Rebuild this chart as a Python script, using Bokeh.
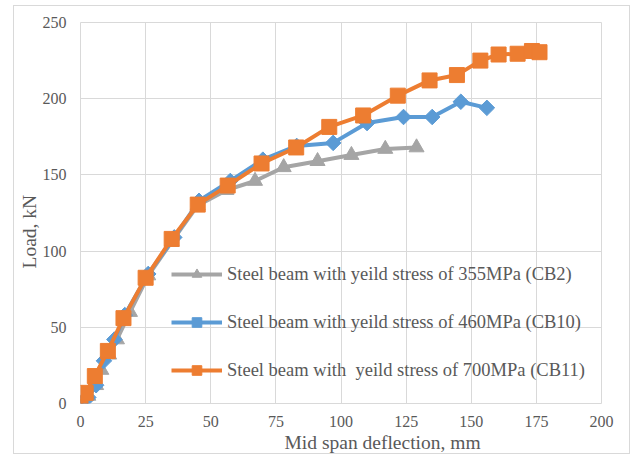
import math
from bokeh.plotting import figure
from bokeh.models import Legend, LegendItem, Title, FixedTicker, Range1d
from bokeh.embed import file_html
from bokeh.resources import INLINE

# ---- data ----
cb2_x = [0, 3, 6, 8, 11, 14, 19, 26, 35, 45, 56, 67, 78, 91, 104, 117, 129]
cb2_y = [0, 5, 12, 22, 32, 42, 60, 84, 106, 130, 140, 146, 155, 159, 163, 167, 168]

cb10_x = [0, 3, 6, 9, 13, 17, 26, 36, 45.5, 57.5, 70, 83, 97, 110, 124, 135, 146, 156]
cb10_y = [0, 4, 12, 28, 42, 58, 85, 109, 133, 146, 160, 169, 171, 184, 188, 188, 198, 194]

cb11_x = [0, 2, 5.5, 10.5, 16.5, 25, 35, 45, 56.5, 69.5, 82.8, 95.5, 108.5, 121.8, 134, 144.5, 153.5, 160.5, 167.8, 173.3, 176.2]
cb11_y = [0, 7, 18, 34.5, 56, 82.5, 108, 130.5, 143, 157.5, 168, 181.5, 189, 202, 212, 215.5, 225, 229, 229.5, 231.3, 230.5]

x_ticks = [0, 25, 50, 75, 100, 125, 150, 175, 200]
y_ticks = [0, 50, 100, 150, 200, 250]

labels = [
    "Steel beam with yeild stress of 355MPa (CB2)",
    "Steel beam with yeild stress of 460MPa (CB10)",
    "Steel beam with  yeild stress of 700MPa (CB11)",
]
x_title = "Mid span deflection, mm"
y_title = "Load, kN"

GRAY = "#A5A5A5"
BLUE = "#5B9BD5"
ORANGE = "#ED7D31"
TXT = "#595959"
GRID = "#D9D9D9"
FONT = "Liberation Serif"

p = figure(width=617, height=449, output_backend="svg", toolbar_location=None,
           x_range=Range1d(0, 200), y_range=Range1d(0, 250),
           min_border_left=66, min_border_right=30, min_border_top=16, min_border_bottom=52,
           margin=(5, 0, 0, 13),
           styles={"border": "1px solid #D9D9D9"})

p.outline_line_color = GRID
p.xgrid.grid_line_color = GRID
p.ygrid.grid_line_color = GRID
p.xaxis.ticker = FixedTicker(ticks=x_ticks)
p.yaxis.ticker = FixedTicker(ticks=y_ticks)
for ax in (p.xaxis, p.yaxis):
    ax.axis_line_color = None
    ax.major_tick_line_color = None
    ax.minor_tick_line_color = None
    ax.major_tick_out = 0
    ax.major_tick_in = 0
    ax.minor_tick_out = 0
    ax.minor_tick_in = 0
    ax.major_label_text_font = FONT
    ax.major_label_text_font_size = "16px"
    ax.major_label_text_color = TXT
    ax.major_label_text_line_height = 1.0
p.xaxis.major_label_standoff = 12
p.yaxis.major_label_standoff = 14

r_g_l = p.line(cb2_x, cb2_y, line_color=GRAY, line_width=4)
r_g_m = p.scatter(cb2_x, cb2_y, marker="triangle", size=15, fill_color=GRAY, line_color=GRAY)
r_b_l = p.line(cb10_x, cb10_y, line_color=BLUE, line_width=4)
r_b_m = p.scatter(cb10_x, cb10_y, marker="square", size=11, angle=math.pi / 4,
                  fill_color=BLUE, line_color=BLUE)
r_o_l = p.line(cb11_x, cb11_y, line_color=ORANGE, line_width=4)
r_o_m = p.scatter(cb11_x, cb11_y, marker="square", size=15, fill_color=ORANGE, line_color=ORANGE)

legend = Legend(items=[
    LegendItem(label=labels[0], renderers=[r_g_l, r_g_m]),
    LegendItem(label=labels[1], renderers=[r_b_l, r_b_m]),
    LegendItem(label=labels[2], renderers=[r_o_l, r_o_m]),
], location=(91, 21))
legend.background_fill_alpha = 0
legend.border_line_color = None
legend.padding = 0
legend.margin = 0
legend.spacing = 24
legend.glyph_width = 51
legend.glyph_height = 24
legend.label_height = 24
legend.label_standoff = 5
legend.label_text_font = FONT
legend.label_text_font_size = "18.5px"
legend.label_text_color = TXT
p.add_layout(legend)

xt = Title(text=x_title, align="left", offset=204, standoff=0,
           text_font=FONT, text_font_size="19.5px", text_font_style="normal",
           text_color=TXT, text_line_height=1.0)
p.add_layout(xt, "below")
yt = Title(text=y_title, align="left", offset=135, standoff=0,
           text_font=FONT, text_font_size="19.5px", text_font_style="normal",
           text_color=TXT, text_line_height=1.0)
p.add_layout(yt, "left")

open("out.html", "w").write(file_html(p, INLINE))
